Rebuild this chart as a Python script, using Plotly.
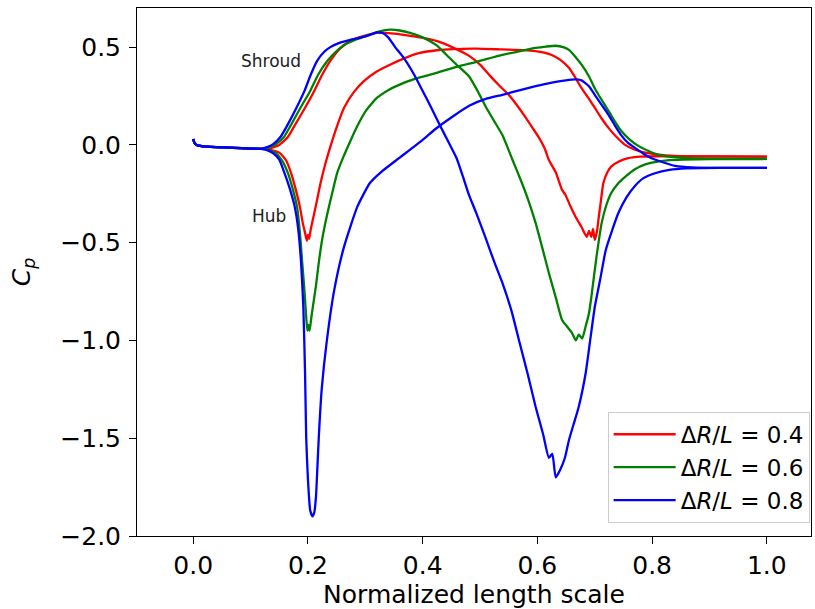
import plotly.graph_objects as go

# shared start of all curves (inlet region)
start_x = [0.0, 0.002, 0.006, 0.015, 0.04, 0.07, 0.1]
start_y = [0.03, 0.012, 0.0, -0.006, -0.011, -0.015, -0.019]

# dR/L = 0.4 (red)
red_shroud_x = [0.13, 0.15, 0.165, 0.177, 0.195, 0.211, 0.225, 0.239, 0.255, 0.274, 0.295, 0.32, 0.34, 0.367, 0.395, 0.424, 0.455, 0.481, 0.5, 0.516, 0.533, 0.55, 0.565, 0.58, 0.592, 0.603, 0.613, 0.62, 0.632, 0.643, 0.649, 0.657, 0.667, 0.677, 0.686, 0.69, 0.694, 0.697, 0.70, 0.704, 0.707, 0.711, 0.715, 0.722, 0.729, 0.742, 0.758, 0.78, 0.81, 0.9, 1.0]
red_shroud_y = [-0.02, 0.0, 0.04, 0.10, 0.19, 0.276, 0.36, 0.43, 0.49, 0.532, 0.555, 0.573, 0.572, 0.563, 0.55, 0.532, 0.495, 0.455, 0.41, 0.358, 0.305, 0.256, 0.20, 0.138, 0.085, 0.036, -0.02, -0.077, -0.14, -0.23, -0.256, -0.31, -0.37, -0.42, -0.47, -0.44, -0.47, -0.43, -0.486, -0.44, -0.37, -0.28, -0.195, -0.14, -0.11, -0.085, -0.068, -0.06, -0.058, -0.059, -0.06]
red_hub_x = [0.125, 0.138, 0.151, 0.162, 0.1705, 0.178, 0.186, 0.191, 0.195, 0.198, 0.2, 0.202, 0.205, 0.211, 0.216, 0.222, 0.23, 0.239, 0.25, 0.263, 0.28, 0.298, 0.32, 0.343, 0.37, 0.395, 0.425, 0.454, 0.494, 0.539, 0.575, 0.597, 0.612, 0.625, 0.64, 0.655, 0.667, 0.677, 0.69, 0.70, 0.712, 0.724, 0.738, 0.753, 0.77, 0.788, 0.81, 0.84, 0.9, 1.0]
red_hub_y = [-0.02, -0.028, -0.042, -0.08, -0.143, -0.22, -0.317, -0.40, -0.45, -0.49, -0.46, -0.48, -0.43, -0.35, -0.28, -0.195, -0.10, -0.01, 0.09, 0.19, 0.27, 0.327, 0.375, 0.41, 0.445, 0.47, 0.484, 0.49, 0.492, 0.488, 0.485, 0.48, 0.472, 0.46, 0.435, 0.394, 0.34, 0.29, 0.235, 0.19, 0.135, 0.087, 0.04, 0.0, -0.025, -0.04, -0.05, -0.056, -0.059, -0.06]

# dR/L = 0.6 (green)
green_shroud_x = [0.122, 0.135, 0.145, 0.158, 0.17, 0.187, 0.204, 0.218, 0.234, 0.25, 0.263, 0.285, 0.308, 0.325, 0.343, 0.36, 0.378, 0.40, 0.424, 0.44, 0.459, 0.481, 0.495, 0.511, 0.525, 0.539, 0.556, 0.573, 0.585, 0.597, 0.608, 0.62, 0.632, 0.643, 0.652, 0.66, 0.667, 0.672, 0.678, 0.684, 0.69, 0.694, 0.703, 0.712, 0.72, 0.729, 0.74, 0.753, 0.77, 0.788, 0.81, 0.84, 0.9, 1.0]
green_shroud_y = [-0.02, -0.01, 0.005, 0.04, 0.10, 0.19, 0.276, 0.36, 0.43, 0.48, 0.51, 0.54, 0.563, 0.58, 0.589, 0.585, 0.573, 0.55, 0.51, 0.465, 0.41, 0.35, 0.28, 0.19, 0.12, 0.05, -0.072, -0.195, -0.29, -0.40, -0.52, -0.655, -0.78, -0.895, -0.93, -0.96, -1.0, -0.97, -0.99, -0.93, -0.86, -0.78, -0.573, -0.40, -0.31, -0.245, -0.20, -0.164, -0.125, -0.10, -0.085, -0.077, -0.073, -0.072]
green_hub_x = [0.12, 0.132, 0.144, 0.155, 0.165, 0.173, 0.181, 0.186, 0.19, 0.194, 0.197, 0.199, 0.201, 0.203, 0.206, 0.21, 0.214, 0.219, 0.225, 0.234, 0.242, 0.251, 0.262, 0.274, 0.285, 0.30, 0.32, 0.34, 0.367, 0.395, 0.424, 0.46, 0.494, 0.539, 0.57, 0.597, 0.615, 0.632, 0.645, 0.655, 0.665, 0.677, 0.69, 0.70, 0.712, 0.724, 0.735, 0.746, 0.76, 0.776, 0.793, 0.81, 0.83, 0.857, 0.9, 1.0]
green_hub_y = [-0.02, -0.028, -0.042, -0.08, -0.143, -0.22, -0.317, -0.45, -0.6, -0.75, -0.88, -0.95, -0.92, -0.95, -0.88, -0.80, -0.72, -0.60, -0.48, -0.35, -0.25, -0.143, -0.06, 0.02, 0.09, 0.17, 0.24, 0.28, 0.317, 0.345, 0.368, 0.40, 0.425, 0.46, 0.48, 0.496, 0.503, 0.507, 0.50, 0.486, 0.455, 0.41, 0.35, 0.29, 0.23, 0.174, 0.12, 0.072, 0.03, -0.005, -0.03, -0.05, -0.06, -0.067, -0.071, -0.072]

# dR/L = 0.8 (blue)
blue_shroud_x = [0.118, 0.13, 0.14, 0.152, 0.164, 0.18, 0.194, 0.205, 0.216, 0.228, 0.239, 0.255, 0.274, 0.3, 0.32, 0.33, 0.34, 0.352, 0.367, 0.385, 0.40, 0.415, 0.43, 0.445, 0.459, 0.47, 0.48, 0.495, 0.511, 0.525, 0.539, 0.555, 0.568, 0.583, 0.597, 0.61, 0.62, 0.626, 0.632, 0.64, 0.648, 0.655, 0.663, 0.672, 0.684, 0.692, 0.70, 0.71, 0.719, 0.73, 0.741, 0.755, 0.77, 0.785, 0.805, 0.83, 0.86, 0.92, 1.0]
blue_shroud_y = [-0.02, -0.01, 0.005, 0.04, 0.10, 0.19, 0.276, 0.36, 0.43, 0.475, 0.50, 0.522, 0.537, 0.555, 0.575, 0.572, 0.55, 0.50, 0.445, 0.36, 0.276, 0.19, 0.10, 0.015, -0.067, -0.16, -0.25, -0.36, -0.486, -0.60, -0.706, -0.85, -1.0, -1.17, -1.34, -1.48, -1.60, -1.58, -1.70, -1.66, -1.60, -1.51, -1.43, -1.34, -1.17, -1.0, -0.83, -0.68, -0.54, -0.44, -0.35, -0.27, -0.21, -0.17, -0.145, -0.128, -0.12, -0.118, -0.118]
blue_hub_x = [0.118, 0.13, 0.139, 0.15, 0.159, 0.168, 0.177, 0.183, 0.188, 0.192, 0.195, 0.197, 0.2, 0.204, 0.208, 0.211, 0.214, 0.216, 0.219, 0.224, 0.233, 0.246, 0.263, 0.286, 0.308, 0.327, 0.36, 0.40, 0.424, 0.45, 0.481, 0.51, 0.539, 0.57, 0.597, 0.625, 0.655, 0.668, 0.677, 0.69, 0.70, 0.712, 0.724, 0.735, 0.746, 0.758, 0.77, 0.785, 0.798, 0.82, 0.84, 0.87, 0.92, 1.0]
blue_hub_y = [-0.02, -0.028, -0.042, -0.075, -0.143, -0.22, -0.317, -0.43, -0.6, -0.83, -1.17, -1.5, -1.71, -1.87, -1.9, -1.88, -1.80, -1.68, -1.49, -1.25, -1.0, -0.74, -0.52, -0.317, -0.195, -0.14, -0.065, 0.026, 0.085, 0.14, 0.2, 0.235, 0.256, 0.28, 0.30, 0.318, 0.333, 0.335, 0.33, 0.30, 0.256, 0.205, 0.154, 0.10, 0.05, 0.01, -0.015, -0.045, -0.067, -0.09, -0.107, -0.115, -0.118, -0.118]

series = [
    ("0.4", "#ff0000", red_shroud_x, red_shroud_y, red_hub_x, red_hub_y),
    ("0.6", "#008000", green_shroud_x, green_shroud_y, green_hub_x, green_hub_y),
    ("0.8", "#0000ff", blue_shroud_x, blue_shroud_y, blue_hub_x, blue_hub_y),
]

fig = go.Figure()
for label, color, sx, sy, hx, hy in series:
    name = "Δ<i>R</i>/<i>L</i> = " + label
    line = dict(color=color, width=2.3, shape="spline", smoothing=0.5)
    fig.add_trace(go.Scatter(x=start_x + sx, y=start_y + sy, mode="lines",
                             line=line, name=name,
                             legendgroup=label, showlegend=True))
    fig.add_trace(go.Scatter(x=start_x + hx, y=start_y + hy, mode="lines",
                             line=line, name=name,
                             legendgroup=label, showlegend=False))

fig.add_annotation(x=0.135, y=0.43, text="Shroud", showarrow=False,
                   font=dict(size=17, color="#222222"))
fig.add_annotation(x=0.132, y=-0.363, text="Hub", showarrow=False,
                   font=dict(size=17, color="#222222"))

axis_common = dict(showline=True, linecolor="black", linewidth=1, mirror=True,
                   ticks="outside", ticklen=7, tickcolor="black", tickwidth=1,
                   showgrid=False, zeroline=False, automargin=False,
                   tickfont=dict(family="DejaVu Sans", size=25, color="black"))

fig.update_layout(
    width=815, height=609,
    margin=dict(l=137, r=4, t=8, b=73),
    paper_bgcolor="white", plot_bgcolor="white",
    font=dict(family="DejaVu Sans", color="black"),
    xaxis=dict(range=[-0.098, 1.077], tickvals=[0, 0.2, 0.4, 0.6, 0.8, 1.0],
               tickformat=".1f",
               title=dict(text="Normalized length scale",
                          font=dict(family="DejaVu Sans", size=25), standoff=4),
               **axis_common),
    yaxis=dict(range=[-2.0, 0.7], tickvals=[-2.0, -1.5, -1.0, -0.5, 0.0, 0.5],
               tickformat=".1f", ticklabelstandoff=3,
               title=dict(text="<i>C</i><sub><i>p</i></sub>",
                          font=dict(family="DejaVu Sans", size=25), standoff=22),
               **axis_common),
    legend=dict(x=0.998, y=0.025, xanchor="right", yanchor="bottom",
                bgcolor="rgba(255,255,255,0.8)", bordercolor="#cccccc", borderwidth=1,
                font=dict(family="DejaVu Sans", size=23, color="black"),
                itemwidth=62, tracegroupgap=0),
    showlegend=True,
)

fig.write_html("out.html", config={"displayModeBar": False},
               post_script="document.body.style.margin='0px';document.body.style.overflow='hidden';")
